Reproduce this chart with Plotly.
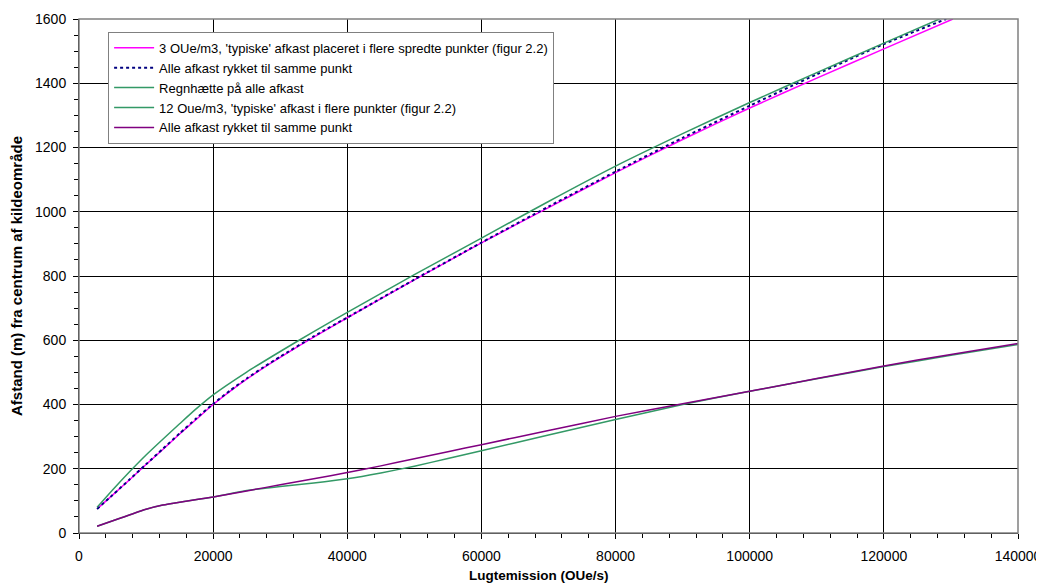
import plotly.graph_objects as go

# Upper group (3 OUe/m3)
x_magenta = [2700, 5000, 7500, 10000, 12500, 15000, 17500, 20000, 22500, 25000, 27500, 30000, 35000, 40000, 50000, 60000, 70000, 80000, 90000, 100000, 110000, 120000, 130300]
magenta = [75, 118, 165, 213, 260, 308, 354, 400, 441, 479, 514, 547, 610, 670, 788, 903, 1013, 1122, 1225, 1323, 1416, 1507, 1600]
x_dotted = [2700, 5000, 7500, 10000, 12500, 15000, 17500, 20000, 22500, 25000, 27500, 30000, 35000, 40000, 50000, 60000, 70000, 80000, 90000, 100000, 110000, 120000, 129300]
navy_dotted = [75, 118, 166, 214, 262, 310, 357, 402, 443, 481, 516, 549, 612, 671, 789, 904, 1016, 1125, 1230, 1330, 1428, 1522, 1600]
x_rain = [2700, 5000, 7500, 10000, 12500, 15000, 17500, 20000, 25000, 30000, 35000, 40000, 50000, 60000, 70000, 80000, 90000, 100000, 110000, 120000, 128300]
regnhaette = [80, 134, 190, 243, 292, 340, 387, 430, 501, 565, 627, 687, 804, 918, 1032, 1142, 1243, 1340, 1433, 1525, 1600]

# Lower group (12 OUe/m3)
x_lower = [2700, 6000, 10000, 12500, 15000, 20000, 25000, 30000, 35000, 40000, 45000, 50000, 55000, 60000, 70000, 80000, 90000, 100000, 110000, 120000, 130000, 140000]
green_12 = [21, 45, 74, 87, 96, 112, 132, 145, 156, 169, 187, 208, 232, 256, 305, 353, 400, 441, 480, 518, 553, 587]
purple_12 = [21, 45, 74, 87, 96, 112, 131, 150, 169, 188, 209, 231, 253, 275, 319, 363, 402, 441, 481, 520, 556, 590]

names = [
    "3 OUe/m3, 'typiske' afkast placeret i flere spredte punkter (figur 2.2)",
    "Alle afkast rykket til samme punkt",
    "Regnhætte på alle afkast",
    "12 Oue/m3, 'typiske' afkast i flere punkter (figur 2.2)",
    "Alle afkast rykket til samme punkt",
]

FONT = "Arial, Liberation Sans, sans-serif"
SM = 0.6

fig = go.Figure()
fig.add_trace(go.Scatter(x=x_magenta, y=magenta, mode="lines", name=names[0],
                         line=dict(color="#FF00FF", width=1.5, shape="spline", smoothing=SM)))
fig.add_trace(go.Scatter(x=x_dotted, y=navy_dotted, mode="lines", name=names[1],
                         line=dict(color="#000080", width=2, dash="dot", shape="spline", smoothing=SM)))
fig.add_trace(go.Scatter(x=x_rain, y=regnhaette, mode="lines", name=names[2],
                         line=dict(color="#339966", width=1.5, shape="spline", smoothing=SM)))
fig.add_trace(go.Scatter(x=x_lower, y=green_12, mode="lines", name=names[3],
                         line=dict(color="#339966", width=1.5, shape="spline", smoothing=SM)))
fig.add_trace(go.Scatter(x=x_lower, y=purple_12, mode="lines", name=names[4],
                         line=dict(color="#800080", width=1.5, shape="spline", smoothing=SM)))

# The page body adds an 8px offset; the figure is sized so the plot area lands
# at x 79..1018, y 19..533 of the window.
fig.update_layout(
    width=1036, height=580,
    margin=dict(l=71, r=26, t=11, b=55, autoexpand=False),
    paper_bgcolor="white", plot_bgcolor="white",
    font=dict(family=FONT, size=14, color="#000000"),
    showlegend=True,
    legend=dict(x=0.031, y=0.975, xanchor="left", yanchor="top",
                bgcolor="white", bordercolor="#808080", borderwidth=1,
                font=dict(family=FONT, size=13, color="#000000"),
                tracegroupgap=0, itemwidth=40),
    xaxis=dict(range=[0, 140000], tickvals=[0, 20000, 40000, 60000, 80000, 100000, 120000, 140000],
               ticktext=["0", "20000", "40000", "60000", "80000", "100000", "120000", "140000"],
               automargin=False,
               showgrid=True, gridcolor="#000000", gridwidth=1,
               showline=True, linecolor="#000000", linewidth=1,
               ticks="outside", ticklen=5, tickcolor="#000000", ticklabelstandoff=5,
               tickfont=dict(family=FONT, size=14),
               minor=dict(dtick=4000, ticks="outside", ticklen=4, tickcolor="#000000", showgrid=False),
               zeroline=False),
    yaxis=dict(range=[0, 1600], dtick=200,
               automargin=False,
               showgrid=True, gridcolor="#000000", gridwidth=1,
               showline=True, linecolor="#000000", linewidth=1,
               ticks="outside", ticklen=5, tickcolor="#000000", ticklabelstandoff=4,
               tickfont=dict(family=FONT, size=14),
               minor=dict(dtick=50, ticks="outside", ticklen=4, tickcolor="#000000", showgrid=False),
               zeroline=False,
               title=dict(text="<b>Afstand (m) fra centrum af kildeområde</b>", standoff=10,
                          font=dict(family=FONT, size=15))),
    annotations=[dict(text="<b>Lugtemission (OUe/s)</b>", xref="paper", yref="paper",
                      x=0.49, y=0, xanchor="center", yanchor="top", yshift=-33,
                      showarrow=False, font=dict(family=FONT, size=13.5, color="#000000"))],
    shapes=[dict(type="rect", xref="paper", yref="paper", x0=0, y0=0, x1=1, y1=1,
                 line=dict(color="#808080", width=1.5), layer="above")],
)

fig.write_html("out.html")
